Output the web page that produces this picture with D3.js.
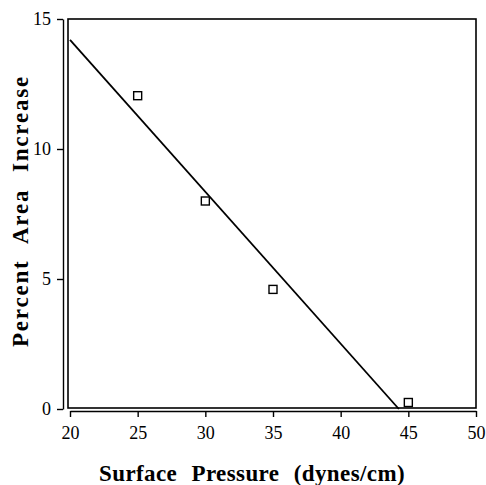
<!DOCTYPE html>
<html lang="en">
<head>
    <meta charset="UTF-8">
    <title>Percent Area Increase vs Surface Pressure</title>
    <style>
        html, body {
            margin: 0;
            padding: 0;
            background-color: #fff;
        }
        text {
            font-family: 'Liberation Serif', serif;
            fill: #000;
        }
    </style>
</head>
<body>
    <div id="graph"></div>
    <script src="https://d3js.org/d3.v7.min.js"></script>
    <script>
        // data
        const pressure = [25, 30, 35, 45];
        const areaIncrease = [12.05, 8.0, 4.6, 0.25];
        const fitX = [20, 44.3];
        const fitY = [14.2, 0];
        const xTicks = [20, 25, 30, 35, 40, 45, 50];
        const yTicks = [0, 5, 10, 15];

        const width = 486, height = 485;
        const plot = {left: 68, right: 476, top: 19, bottom: 408};

        const svg = d3.select("#graph")
            .append("svg")
            .attr("width", width)
            .attr("height", height);

        const x = d3.scaleLinear().domain([20, 50]).range([70, 476]);
        const y = d3.scaleLinear().domain([0, 15]).range([409, 19]);

        // frame
        svg.append("rect")
            .attr("x", plot.left)
            .attr("y", plot.top)
            .attr("width", plot.right - plot.left)
            .attr("height", plot.bottom - plot.top)
            .style("fill", "none")
            .style("stroke", "#000")
            .style("stroke-width", 1.6);

        // x axis, offset a little below the frame
        const xAxis = svg.append("g")
            .attr("transform", "translate(0,411)")
            .call(d3.axisBottom(x).tickValues(xTicks).tickSize(6).tickSizeOuter(0).tickPadding(9));

        // y axis, offset a little left of the frame
        const yAxis = svg.append("g")
            .attr("transform", "translate(63,0)")
            .call(d3.axisLeft(y).tickValues(yTicks).tickSize(6).tickSizeOuter(0).tickPadding(6));

        [xAxis, yAxis].forEach(a => {
            a.select(".domain").style("stroke", "#000").style("stroke-width", 1.4);
            a.selectAll(".tick line").style("stroke", "#000").style("stroke-width", 1.4);
            a.selectAll(".tick text")
                .style("font-family", "'Liberation Serif', serif")
                .style("font-size", "18px")
                .style("fill", "#000");
        });

        // fitted line
        svg.append("line")
            .attr("x1", x(fitX[0]))
            .attr("y1", y(fitY[0]))
            .attr("x2", x(fitX[1]))
            .attr("y2", y(fitY[1]))
            .style("stroke", "#000")
            .style("stroke-width", 1.8);

        // data squares
        const pts = pressure.map((p, i) => ({p: p, a: areaIncrease[i]}));
        svg.selectAll("rect.pt")
            .data(pts)
            .enter()
            .append("rect")
            .attr("class", "pt")
            .attr("x", d => x(d.p) - 4)
            .attr("y", d => y(d.a) - 4)
            .attr("width", 8)
            .attr("height", 8)
            .style("fill", "#fff")
            .style("stroke", "#000")
            .style("stroke-width", 1.4);

        // axis titles: letter spacing, then widen the word gaps to fill the span
        function title(t, label, target, ls) {
            t.attr("text-anchor", "middle")
                .style("font-size", "23px")
                .style("font-weight", "bold")
                .style("letter-spacing", ls + "px")
                .text(label);
            const natural = t.node().getComputedTextLength();
            const gaps = label.split(" ").length - 1;
            const ws = Math.max(0, (target - natural) / gaps);
            t.style("word-spacing", ws + "px");
        }

        title(svg.append("text").attr("x", 252).attr("y", 481),
            "Surface Pressure (dynes/cm)", 306, 0.4);

        title(svg.append("text").attr("transform", "translate(28,211) rotate(-90)"),
            "Percent Area Increase", 272, 1.8);
    </script>
</body>
</html>
